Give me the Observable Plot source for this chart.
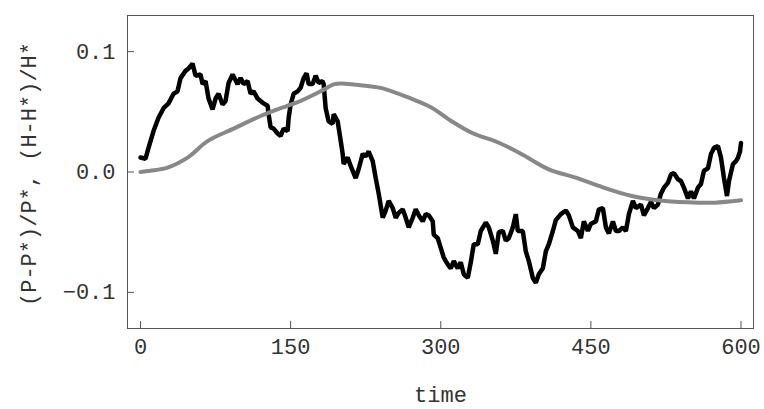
<!DOCTYPE html>
<html>
<head>
<meta charset="utf-8">
<script src="https://cdn.jsdelivr.net/npm/d3@7"></script>
<script src="https://cdn.jsdelivr.net/npm/@observablehq/plot@0.6"></script>
<style>
  html, body { margin: 0; padding: 0; background: #fff; }
  #chart svg { display: block; }
</style>
</head>
<body>
<div id="chart"></div>
<script>
// Time axis ticks and labels
const xTicks = [0, 150, 300, 450, 600];
const yTicks = [-0.1, 0.0, 0.1];
const xLabel = "time";
const yLabel = "(P-P*)/P*, (H-H*)/H*";

// Black series: (P-P*)/P*
const pTime = [0,5,8,13,18,23,28,33,37,40,45,48,52,55,60,62,65,68,72,75,78,82,85,88,92,97,100,103,107,110,113,117,120,123,127,128,130,133,137,140,143,147,148,150,153,157,160,163,166,168,172,175,178,182,183,185,188,192,193,197,200,202,203,207,210,215,218,222,225,228,232,235,238,242,245,248,252,255,258,262,265,268,272,275,278,282,285,288,292,293,297,300,303,305,308,310,313,317,320,323,327,330,333,337,340,345,348,352,355,358,362,365,368,372,375,377,382,385,388,392,395,398,402,405,408,412,415,420,425,428,432,437,440,443,447,450,455,458,462,465,468,472,475,478,482,485,488,492,495,500,503,507,510,513,517,520,523,527,530,533,537,540,543,547,550,553,557,560,563,567,570,573,577,580,583,586,588,592,595,597,599,600];
const pValue = [0.012,0.011,0.020,0.034,0.045,0.053,0.057,0.065,0.067,0.078,0.084,0.086,0.090,0.080,0.081,0.073,0.0755,0.061,0.052,0.061,0.065,0.056,0.059,0.074,0.081,0.073,0.078,0.073,0.0755,0.065,0.067,0.061,0.059,0.057,0.055,0.048,0.037,0.036,0.032,0.030,0.036,0.034,0.045,0.056,0.065,0.067,0.070,0.078,0.082,0.073,0.073,0.080,0.074,0.0755,0.073,0.053,0.042,0.040,0.048,0.042,0.026,0.015,0.0066,0.012,0.005,-0.005,0.0025,0.015,0.013,0.017,0.009,-0.005,-0.018,-0.038,-0.032,-0.024,-0.030,-0.038,-0.034,-0.031,-0.038,-0.046,-0.038,-0.031,-0.036,-0.041,-0.035,-0.036,-0.041,-0.052,-0.055,-0.063,-0.071,-0.074,-0.078,-0.080,-0.074,-0.080,-0.075,-0.085,-0.088,-0.075,-0.060,-0.060,-0.049,-0.042,-0.046,-0.057,-0.068,-0.050,-0.049,-0.057,-0.055,-0.046,-0.035,-0.049,-0.049,-0.066,-0.074,-0.088,-0.092,-0.085,-0.080,-0.066,-0.060,-0.049,-0.040,-0.035,-0.032,-0.036,-0.046,-0.049,-0.055,-0.041,-0.049,-0.043,-0.041,-0.031,-0.030,-0.046,-0.051,-0.041,-0.049,-0.049,-0.046,-0.049,-0.035,-0.024,-0.030,-0.027,-0.036,-0.030,-0.025,-0.030,-0.027,-0.018,-0.013,-0.009,-0.002,-0.001,-0.006,-0.0075,-0.013,-0.022,-0.016,-0.022,-0.013,-0.010,0.001,0.003,0.015,0.020,0.0215,0.012,-0.005,-0.020,-0.0075,0.0066,0.009,0.012,0.017,0.024];

// Gray series: (H-H*)/H*
const hTime = [0,10,27,47,67,93,120,146,160,180,193,200,215,227,242,268,291,308,331,358,381,408,435,458,491,524,558,574,600];
const hValue = [0.000,0.001,0.0036,0.0119,0.0257,0.036,0.0465,0.0548,0.059,0.067,0.0728,0.0736,0.0725,0.0714,0.0695,0.0617,0.0534,0.0437,0.0326,0.0243,0.0147,0.0022,-0.0047,-0.0116,-0.0199,-0.0241,-0.0255,-0.0255,-0.0235];

const P = pTime.map((t, i) => ({t, v: pValue[i]}));
const H = hTime.map((t, i) => ({t, v: hValue[i]}));

const FONT = "'Liberation Mono', 'DejaVu Sans Mono', monospace";
const TEXT = "#333";

const chart = Plot.plot({
  width: 764,
  height: 409,
  marginLeft: 127,
  marginRight: 11,
  marginTop: 15,
  marginBottom: 81,
  style: {fontFamily: FONT, fontSize: "22px", color: TEXT, background: "#fff"},
  x: {domain: [-13, 612.5]},
  y: {domain: [-0.13, 0.13]},
  marks: [
    Plot.line(P, {x: "t", y: "v", stroke: "#000", strokeWidth: 4.5, strokeLinejoin: "miter"}),
    Plot.line(H, {x: "t", y: "v", stroke: "#888", strokeWidth: 4, curve: "catmull-rom"}),
    Plot.frame({stroke: "#555", strokeWidth: 1}),
    Plot.axisX({ticks: xTicks, tickSize: -7, tickPadding: 17, stroke: "#555", label: null, fontSize: 22, tickFormat: d3.format("d")}),
    Plot.axisY({ticks: yTicks, tickSize: -7, tickPadding: 19, stroke: "#555", label: null, fontSize: 22, tickFormat: d3.format(".1f")}),
    Plot.text([xLabel], {frameAnchor: "bottom", dy: 73, fontSize: 22, fill: TEXT}),
    Plot.text([yLabel], {frameAnchor: "left", dx: -99, dy: 2, rotate: -90, textAnchor: "middle", lineAnchor: "middle", fontSize: 22, fill: TEXT})
  ]
});
document.getElementById("chart").appendChild(chart);
</script>
</body>
</html>
